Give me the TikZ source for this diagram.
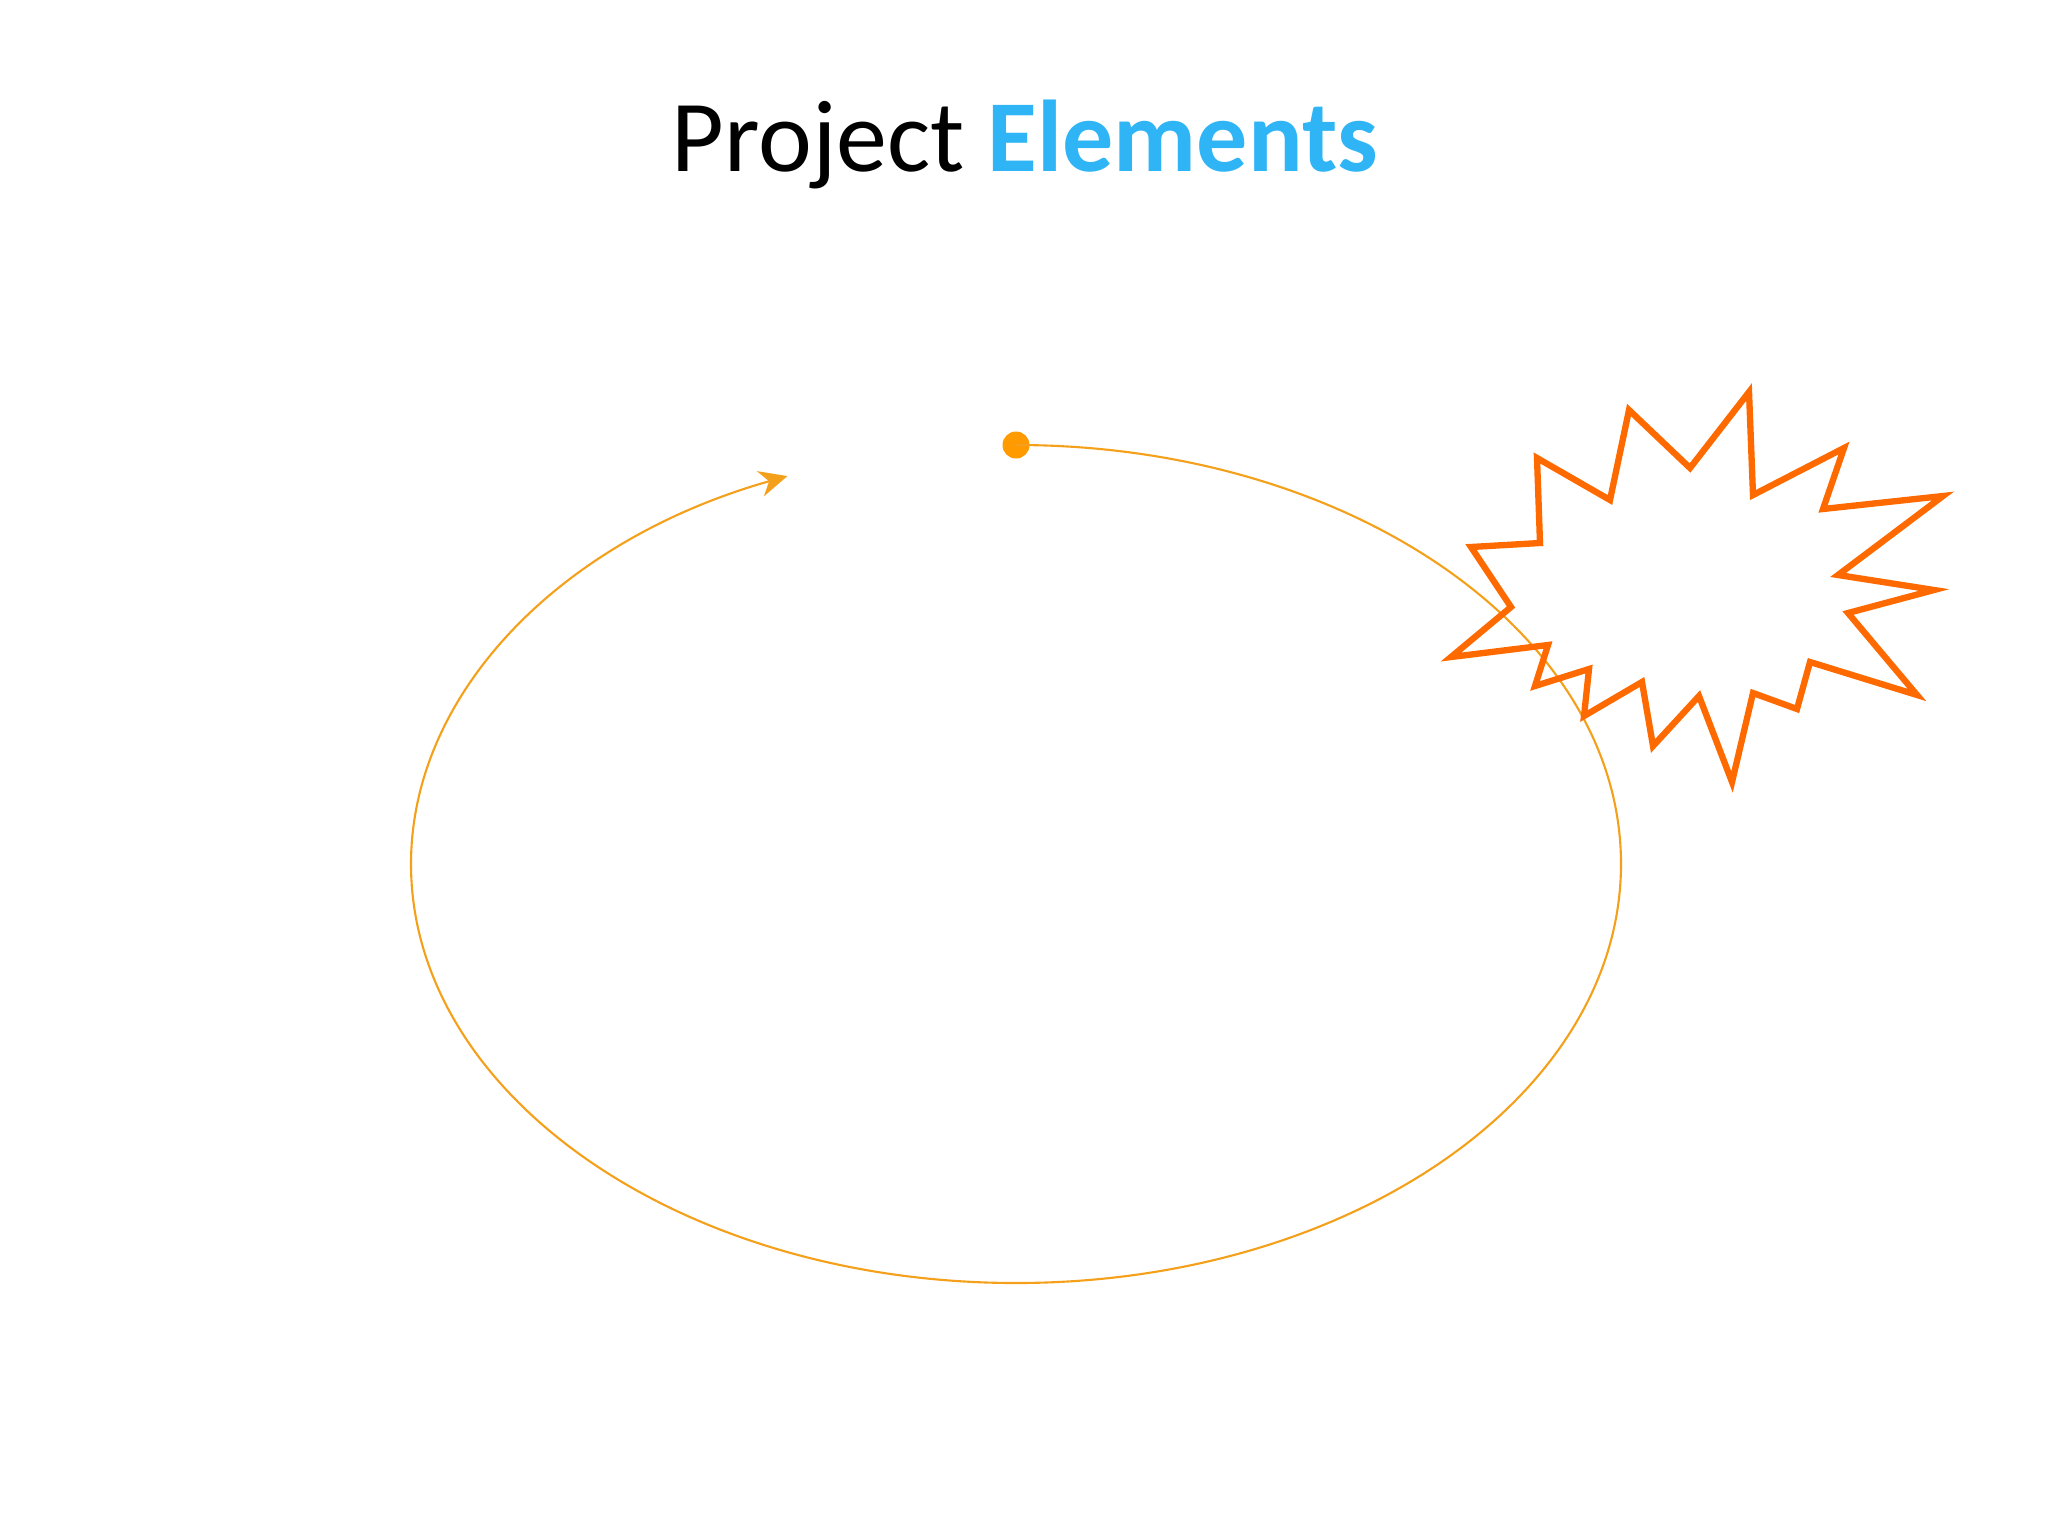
\documentclass[tikz,border=0pt]{standalone}
\usepackage{fontspec}
\setmainfont{Carlito}
\usetikzlibrary{arrows.meta,positioning}

\definecolor{titleblue}{HTML}{2FB5F6}
\definecolor{loop}{HTML}{F5A01A}
\definecolor{dotorange}{HTML}{FF9A00}
\definecolor{burst}{HTML}{FF6A00}

\begin{document}
\begin{tikzpicture}[
	x = 0.01cm, y = -0.01cm, % pixel grid, y pointing down
	> = {Stealth[length=2.8mm, width=2.6mm, inset=0.9mm]}, % arrow head style
	Title/.style={anchor=base, inner sep=0pt, font=\fontsize{29}{35}\selectfont},
	Dot/.style={circle, fill=dotorange, inner sep=0pt, minimum size=2.7mm},
	Cycle/.style={draw=loop, line width=0.6pt},
	Burst/.style={draw=burst, line width=1.8pt, line join=miter},
	]

	% page size
	\useasboundingbox (0,0) rectangle (2048,1536);

	% heading
	\node[Title] (title) at (1025,171) {Project \textcolor{titleblue}{\textbf{Elements}}};

	% start point and the cycle round the project
	\node[Dot] (start) at (1016,445) {};
	\draw[Cycle, ->] (start.center) arc[start angle=-90, end angle=247.8, x radius=605, y radius=419];

	% explosion on the cycle
	\draw[Burst] (1537,458) -- (1610,500) -- (1629,410) -- (1690,468)
		-- (1749,392) -- (1753,495) -- (1844,448) -- (1823,509)
		-- (1943,496) -- (1838,575) -- (1934,590) -- (1848,613)
		-- (1917,695) -- (1810,662) -- (1797,709) -- (1753,693)
		-- (1732,782) -- (1699,696) -- (1653,746) -- (1642,682)
		-- (1584,716) -- (1589,669) -- (1535,686) -- (1548,645)
		-- (1451,657) -- (1511,607) -- (1471,547) -- (1540,543) -- cycle;

\end{tikzpicture}
\end{document}
